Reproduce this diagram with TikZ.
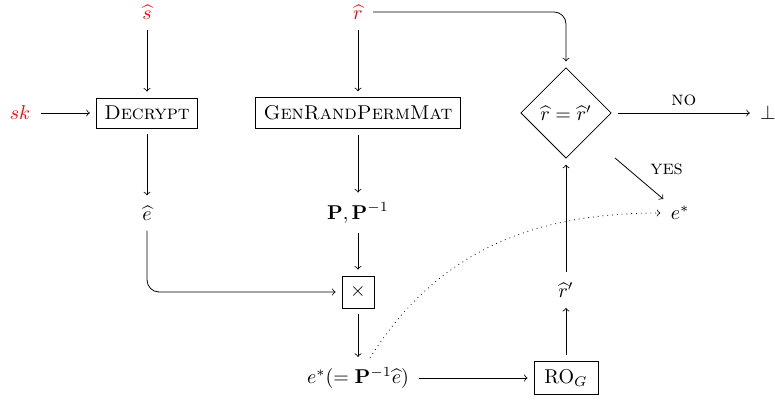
\documentclass[tikz,border=0pt]{standalone}
\usepackage{amsmath,amssymb}
\usetikzlibrary{shapes.geometric}
\begin{document}
\begin{tikzpicture}[x=1pt,y=1pt,
  box/.style={draw, inner sep=4pt},
  lbl/.style={inner sep=2pt},
  arr/.style={->, shorten <=3pt, shorten >=3pt},
  small/.style={font=\normalsize}]
\useasboundingbox (0,0) rectangle (387.5,200);
\node[lbl, text=red] (s) at (73.5,194) {$\widehat{s}$};
\node[lbl, text=red] (r) at (179,194) {$\widehat{r}$};
\node[lbl, text=red] (sk) at (10,143.5) {$sk$};
\node[box] (dec) at (73.5,143.5) {\textsc{Decrypt}};
\node[box] (gen) at (179,143.5) {\textsc{GenRandPermMat}};
\node[draw, diamond, aspect=1, inner sep=3pt] (dia) at (283,143.5) {$\widehat{r}=\widehat{r}'$};
\node[lbl] (bot) at (384,143.5) {$\bot$};
\node[lbl] (ehat) at (73.5,93.5) {$\widehat{e}$};
\node[lbl] (P) at (179,93.5) {$\mathbf{P},\mathbf{P}^{-1}$};
\node[lbl] (estar) at (340,93.5) {$e^*$};
\node[box, minimum size=16pt, inner sep=2pt] (times) at (179,54) {$\times$};
\node[lbl] (rp) at (283,55) {$\widehat{r}'$};
\node[lbl] (eq) at (179,11) {$e^*(=\mathbf{P}^{-1}\widehat{e})$};
\node[box, minimum width=32pt] (ro) at (283,11) {$\mathrm{RO}_G$};
\coordinate (ys) at (307.5,121);
\coordinate (ds) at (185,21);
\draw[arr] (s) -- (dec);
\draw[arr] (r) -- (gen);
\draw[arr] (sk) -- (dec);
\draw[arr] (dec) -- (ehat);
\draw[arr] (gen) -- (P);
\draw[arr] (P) -- (times);
\draw[arr] (times) -- (eq);
\draw[arr] (eq) -- (ro);
\draw[arr] (ro) -- (rp);
\draw[arr] (rp) -- (dia);
\draw[arr, rounded corners=6pt] (r.east) -- (r.east -| dia.north) -- (dia.north);
\draw[arr, rounded corners=6pt] (ehat.south) -- (ehat.south |- times.west) -- (times.west);
\draw[arr] (dia.east) -- node[above, small] {\textsc{no}} (bot);
\draw[->, shorten >=2pt] (ys) -- node[above right, small, pos=0.55] {\textsc{yes}} (estar.north west);
\draw[->, dotted, shorten >=3pt] (ds) to[out=58, in=180] (estar.west);
\end{tikzpicture}
\end{document}
